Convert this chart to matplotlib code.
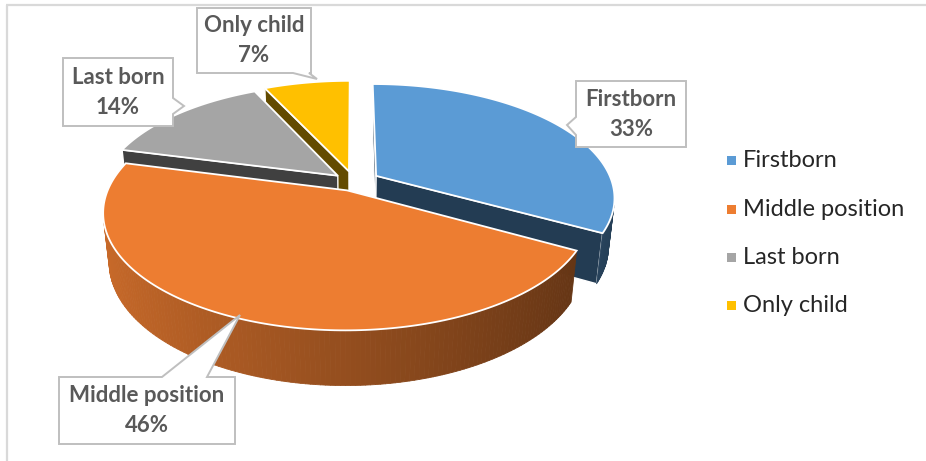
import numpy as np
import matplotlib.pyplot as plt
from matplotlib.patches import Polygon, Rectangle
from matplotlib.collections import PolyCollection

# birth order shares
labels = ['Firstborn', 'Middle position', 'Last born', 'Only child']
shares = [33, 46, 14, 7]
colors = ['#5B9BD5', '#ED7D31', '#A5A5A5', '#FFC000']
explode = [0.11, 0.08, 0.09, 0.10]

W, H = 926, 461
fig = plt.figure(figsize=(W / 100, H / 100), dpi=100)
ax = fig.add_axes([0, 0, 1, 1])
ax.set_xlim(0, W)
ax.set_ylim(H, 0)
ax.axis('off')

# frame (top and left edges of the chart area)
ax.plot([6, W], [5.5, 5.5], color='#D9D9D9', lw=1.6, solid_capstyle='butt')
ax.plot([6.5, 6.5], [5, H], color='#D9D9D9', lw=1.6, solid_capstyle='butt')

# ---- 3d pie: perspective view ----
cx, cy = 354, 182
S = 236
elev = np.radians(28)
D = 4.8
h = 0.235
ce, se = np.cos(elev), np.sin(elev)
cam = np.array([0.0, -D * ce, D * se])


def proj(p):
    p = np.asarray(p, dtype=float)
    u, v, z = p[..., 0], p[..., 1], p[..., 2]
    depth = D + v * ce - z * se
    sx = cx + S * D * u / depth
    sy = cy - S * D * (v * se + z * ce) / depth
    return np.stack([sx, sy], -1)


def depth_of(p):
    p = np.asarray(p, dtype=float)
    return np.linalg.norm(p - cam)


def shade(c, f):
    rgb = np.array(plt.matplotlib.colors.to_rgb(c))
    return tuple(np.clip(rgb * f, 0, 1))


fracs = np.array(shares) / np.sum(shares)
bounds = np.concatenate([[0], np.cumsum(fracs)]) * 2 * np.pi

slices = []
for i in range(len(shares)):
    t1, t2 = bounds[i], bounds[i + 1]
    tm = 0.5 * (t1 + t2)
    off = explode[i] * np.array([np.sin(tm), np.cos(tm)])
    cen = off + 0.5 * np.array([np.sin(tm), np.cos(tm)])
    slices.append((cen[1], i, t1, t2, off))

# far slices first
slices.sort(key=lambda s: -s[0])

for _, i, t1, t2, off in slices:
    col = colors[i]
    n = max(int(np.degrees(t2 - t1)), 2)
    ts = np.linspace(t1, t2, n + 1)
    rim = np.stack([off[0] + np.sin(ts), off[1] + np.cos(ts)], -1)
    apex = np.array([off[0], off[1]])

    # outer curved side
    strips, strip_cols = [], []
    for j in range(n):
        a, b = rim[j], rim[j + 1]
        tmid = 0.5 * (ts[j] + ts[j + 1])
        nrm = np.array([np.sin(tmid), np.cos(tmid), 0.0])
        mid = np.array([0.5 * (a[0] + b[0]), 0.5 * (a[1] + b[1]), -h / 2])
        if np.dot(nrm, cam - mid) <= 0:
            continue
        quad = [[a[0], a[1], 0], [b[0], b[1], 0], [b[0], b[1], -h], [a[0], a[1], -h]]
        strips.append(proj(quad))
        strip_cols.append(shade(col, 0.625 - 0.225 * nrm[0]))

    # radial cut faces
    cuts = []
    for t, sgn, pt in ((t1, -1, rim[0]), (t2, 1, rim[-1])):
        nrm = sgn * np.array([np.cos(t), -np.sin(t), 0.0])
        mid = np.array([0.5 * (apex[0] + pt[0]), 0.5 * (apex[1] + pt[1]), -h / 2])
        if np.dot(nrm, cam - mid) <= 0:
            continue
        quad = [[apex[0], apex[1], 0], [pt[0], pt[1], 0], [pt[0], pt[1], -h], [apex[0], apex[1], -h]]
        cuts.append((depth_of(mid), proj(quad)))

    for _, q in sorted(cuts, key=lambda c: -c[0]):
        ax.add_patch(Polygon(q, closed=True, fc=shade(col, 0.39), ec='white', lw=1.0, zorder=2))
    if strips:
        ax.add_collection(PolyCollection(strips, facecolors=strip_cols, edgecolors=strip_cols,
                                         linewidths=0.6, zorder=2))
    top = np.vstack([[apex], rim])
    top3 = np.column_stack([top, np.zeros(len(top))])
    ax.add_patch(Polygon(proj(top3), closed=True, fc=col, ec='white', lw=1.3, zorder=2))

# ---- data callouts ----
callouts = [
    # label, box (x0, y0, x1, y1), side carrying the pointer, pointer points
    ('Firstborn', (576, 81, 686, 147), 'left', [(576, 135), (567, 125), (576, 117)]),
    ('Middle position', (59, 377, 235, 444), 'top', [(162, 377), (240, 315), (207, 377)]),
    ('Last born', (63, 58, 173, 126), 'right', [(173, 98), (184, 106), (173, 114)]),
    ('Only child', (197, 8, 311, 73), 'bottom', [(309, 73), (317, 79), (293, 73)]),
]

for name, (x0, y0, x1, y1), side, tail in callouts:
    idx = labels.index(name)
    if side == 'top':
        pts = [(x0, y0)] + tail + [(x1, y0), (x1, y1), (x0, y1)]
    elif side == 'left':
        pts = [(x0, y0), (x1, y0), (x1, y1), (x0, y1)] + tail
    elif side == 'right':
        pts = [(x0, y0), (x1, y0)] + tail + [(x1, y1), (x0, y1)]
    else:
        pts = [(x0, y0), (x1, y0), (x1, y1)] + tail + [(x0, y1)]
    ax.add_patch(Polygon(pts, closed=True, fc='white', ec='#BFBFBF', lw=1.4, zorder=5))
    xc = 0.5 * (x0 + x1)
    yc = 0.5 * (y0 + y1)
    ax.text(xc, yc - 15, name, ha='center', va='center', fontsize=16, fontweight='bold',
            family='Lato', color='#595959', zorder=6)
    ax.text(xc, yc + 15, '%d%%' % shares[idx], ha='center', va='center', fontsize=16,
            fontweight='bold', family='Lato', color='#595959', zorder=6)

# ---- legend ----
leg_y = [160, 209, 257, 305]
for name, col, y in zip(labels, colors, leg_y):
    ax.add_patch(Rectangle((727, y - 4.5), 9, 9, fc=col, ec='none', zorder=6))
    ax.text(743, y, name, ha='left', va='center', fontsize=17, family='Lato',
            color='#262626', zorder=6)

fig.savefig('out.png', dpi=100)
